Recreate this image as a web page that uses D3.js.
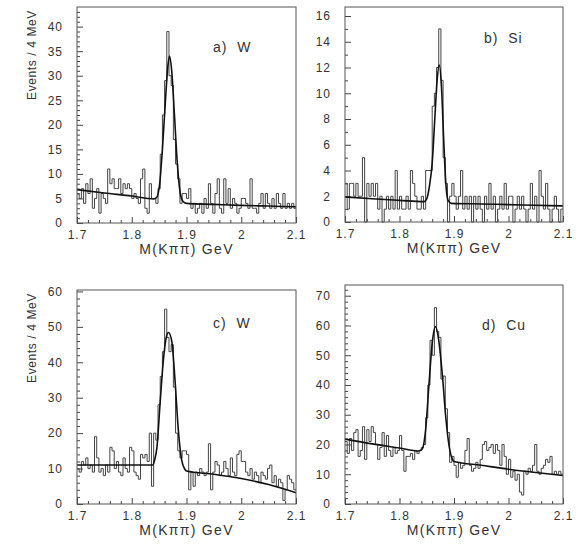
<!DOCTYPE html>
<html lang="en">
<head>
<meta charset="utf-8">
<title>M(Kpipi) spectra</title>
<script src="https://d3js.org/d3.v7.min.js"></script>
<style>
  body { margin: 0; background: #fff; }
  svg text { font-family: "Liberation Sans", Arial, sans-serif; fill: #333; }
  .tick text { font-size: 12px; letter-spacing: 1px; fill: #333; }
  .tick line { stroke: #444; }
  .axis-title { font-size: 14px; letter-spacing: 1.3px; }
  .y-title { font-size: 12px; letter-spacing: 0.6px; }
  .panel-label { font-size: 14px; letter-spacing: 1px; }
  .hist { fill: none; stroke: #444; stroke-width: 1; }
  .fit { fill: none; stroke: #111; stroke-width: 1.6; }
  .frame { fill: none; stroke: #555; stroke-width: 1; }
</style>
</head>
<body>
<svg id="chart"></svg>
<script>

// DATA — events per 4 MeV bin, 100 bins from 1.700 to 2.100 GeV

const countsA = [6,5,7,4,8,6,9,3,5,7,2,6,5,4,11,8,9,7,7,9,6,8,7,8,7,5,6,5,4,9,11,3,2,8,5,
  5,4,7,14,22,29,39,30,28,17,12,9,4,6,
  6,5,7,3,4,2,3,4,2,5,3,8,4,2,6,9,3,2,9,4,7,3,5,4,2,3,5,5,4,3,9,3,3,2,4,6,3,6,4,3,5,3,6,4,3,6,3,4,3,4,3];

const countsB = [3,1,3,3,2,3,2,2,5,0,3,2,3,2,3,1,2,0,1,2,1,2,1,4,1,2,1,1,2,1,4,3,2,1,1,2,1,4,
  4,4,9,10,12,15,11,5,3,0,2,
  3,2,1,2,4,1,2,1,2,0,2,1,2,1,0,2,1,3,1,2,0,1,2,1,3,1,2,2,0,1,2,1,2,1,0,1,3,1,2,0,4,2,1,3,1,0,1,2,1,0,1];

const countsC = [10,9,12,11,13,10,11,9,19,13,9,10,8,11,9,16,15,10,12,9,8,13,10,9,16,15,9,8,7,14,13,14,12,20,5,20,
  18,28,36,43,55,47,43,45,33,20,15,13,15,
  15,14,4,9,5,9,8,10,9,8,9,17,4,9,12,11,8,9,12,10,8,13,9,8,14,15,12,12,9,8,10,7,9,8,6,9,8,7,10,11,6,8,5,7,6,1,4,8,7,6,4];

const countsD = [21,17,22,18,24,25,16,18,26,15,25,21,26,24,20,15,19,24,16,23,18,16,19,17,18,23,18,11,16,16,17,15,18,17,18,19,
  20,29,40,55,50,66,58,56,42,43,32,24,14,16,
  13,9,14,12,13,18,22,13,11,12,14,12,15,20,21,18,19,20,17,20,18,13,20,16,10,15,9,11,8,10,4,3,11,10,12,11,13,20,11,10,12,13,15,14,16,10,11,10,11,10];

// fitted curves as (mass, events) points
const fitA = [[1.70,6.8],[1.75,6.1],[1.80,5.5],[1.84,4.9],[1.846,5.3],[1.851,8],[1.856,15],[1.861,24],[1.866,32],[1.869,34],
  [1.873,31],[1.878,22],[1.883,12.5],[1.888,6.5],[1.893,4.5],[1.90,4.0],[1.95,3.8],[2.0,3.6],[2.05,3.45],[2.1,3.3]];
const fitB = [[1.70,1.95],[1.75,1.8],[1.80,1.68],[1.845,1.58],[1.85,1.8],[1.855,2.8],[1.86,4.6],[1.865,8.2],[1.869,11],[1.873,12.2],
  [1.877,10.5],[1.881,6.5],[1.885,3],[1.889,1.7],[1.895,1.45],[1.95,1.4],[2.0,1.35],[2.05,1.3],[2.1,1.25]];
const fitC = [[1.70,11],[1.75,11],[1.80,11],[1.838,11],[1.842,12.5],[1.846,16],[1.852,29],[1.858,41],[1.863,47],[1.867,48.4],
  [1.873,46],[1.879,35],[1.885,21],[1.891,12.5],[1.897,9.8],[1.90,9.3],[1.95,8.4],[2.0,7.2],[2.05,5.5],[2.1,3.2]];
const fitD = [[1.70,21.8],[1.75,20.2],[1.80,18.8],[1.835,17.8],[1.842,18.6],[1.848,25],[1.854,40],[1.860,54],[1.866,59.6],
  [1.872,55],[1.879,42.5],[1.885,29],[1.891,19.5],[1.897,15],[1.90,14.3],[1.95,13],[2.0,11.7],[2.05,10.6],[2.1,9.6]];

const massTicks = [1.7, 1.8, 1.9, 2.0, 2.1];
const massTickLabels = ["1.7", "1.8", "1.9", "2", "2.1"];
const massMinorTicks = d3.range(1.72, 2.1, 0.02);

const yTicksA = [0,5,10,15,20,25,30,35,40];
const yTicksB = [0,2,4,6,8,10,12,14,16];
const yTicksC = [0,10,20,30,40,50,60];
const yTicksD = [0,10,20,30,40,50,60,70];

const panelLabels = ["a)  W", "b)  Si", "c)  W", "d)  Cu"];
const xTitle = "M(K\u03c0\u03c0) GeV";
const yTitle = "Events / 4 MeV";

const binLow = 1.7, binWidth = 0.004;


// LAYOUT

const width = 579, height = 550;

const panels = [
  {counts: countsA, fit: fitA, ticks: yTicksA, minorStep: 1, yMax: 44,  left: 77,  right: 296, top: 7,   bottom: 223, lab: [136, 45], yTitle: true},
  {counts: countsB, fit: fitB, ticks: yTicksB, minorStep: 1, yMax: 16.7, left: 345, right: 563, top: 7,   bottom: 222, lab: [139, 36], yTitle: false},
  {counts: countsC, fit: fitC, ticks: yTicksC, minorStep: 2, yMax: 60.4, left: 77,  right: 296, top: 290, bottom: 504, lab: [136, 38], yTitle: true},
  {counts: countsD, fit: fitD, ticks: yTicksD, minorStep: 2, yMax: 73.6, left: 345, right: 563, top: 285, bottom: 504, lab: [137, 45], yTitle: false}
];

const svg = d3.select('#chart')
  .attr('width', width)
  .attr('height', height);


// CHART

function drawPanel(p, i) {
  const g = svg.append('g');

  const x = d3.scaleLinear().domain([1.7, 2.1]).range([p.left, p.right]);
  const y = d3.scaleLinear().domain([0, p.yMax]).range([p.bottom, p.top]);

  // minor ticks
  const minorY = d3.range(0, p.yMax, p.minorStep).filter(v => !p.ticks.includes(v));
  g.append('g')
    .attr('transform', `translate(${p.left},0)`)
    .call(d3.axisLeft(y).tickValues(minorY).tickSize(-3).tickFormat(''))
    .call(a => a.select('.domain').remove());
  g.append('g')
    .attr('transform', `translate(0,${p.bottom})`)
    .call(d3.axisBottom(x).tickValues(massMinorTicks.filter(v => Math.abs(v * 10 - Math.round(v * 10)) > 1e-6)).tickSize(-3).tickFormat(''))
    .call(a => a.select('.domain').remove());

  // major ticks + labels
  g.append('g')
    .attr('transform', `translate(${p.left},0)`)
    .call(d3.axisLeft(y).tickValues(p.ticks).tickSize(-6).tickPadding(14).tickFormat(d3.format('d')))
    .call(a => a.select('.domain').remove());
  g.append('g')
    .attr('transform', `translate(0,${p.bottom})`)
    .call(d3.axisBottom(x).tickValues(massTicks).tickSize(-6).tickPadding(7).tickFormat((d, k) => massTickLabels[k]))
    .call(a => a.select('.domain').remove());

  // histogram as steps
  const steps = p.counts.map((c, k) => [binLow + k * binWidth, c]);
  steps.push([2.1, p.counts[p.counts.length - 1]]);
  g.append('path')
    .datum(steps)
    .attr('class', 'hist')
    .attr('d', d3.line().x(d => x(d[0])).y(d => y(d[1])).curve(d3.curveStepAfter));

  // fit
  g.append('path')
    .datum(p.fit)
    .attr('class', 'fit')
    .attr('d', d3.line().x(d => x(d[0])).y(d => y(d[1])).curve(d3.curveMonotoneX));

  // frame
  g.append('rect')
    .attr('class', 'frame')
    .attr('x', p.left)
    .attr('y', p.top)
    .attr('width', p.right - p.left)
    .attr('height', p.bottom - p.top);

  // labels
  g.append('text')
    .attr('class', 'panel-label')
    .attr('x', p.left + p.lab[0])
    .attr('y', p.top + p.lab[1])
    .attr('xml:space', 'preserve')
    .text(panelLabels[i]);

  g.append('text')
    .attr('class', 'axis-title')
    .attr('x', (p.left + p.right) / 2)
    .attr('y', p.bottom + 31)
    .attr('text-anchor', 'middle')
    .text(xTitle);

  if (p.yTitle) {
    const cy = p.top + 48;
    g.append('text')
      .attr('class', 'y-title')
      .attr('transform', `rotate(-90, 36, ${cy})`)
      .attr('x', 36)
      .attr('y', cy)
      .attr('text-anchor', 'middle')
      .text(yTitle);
  }
}

panels.forEach(drawPanel);

</script>
</body>
</html>
